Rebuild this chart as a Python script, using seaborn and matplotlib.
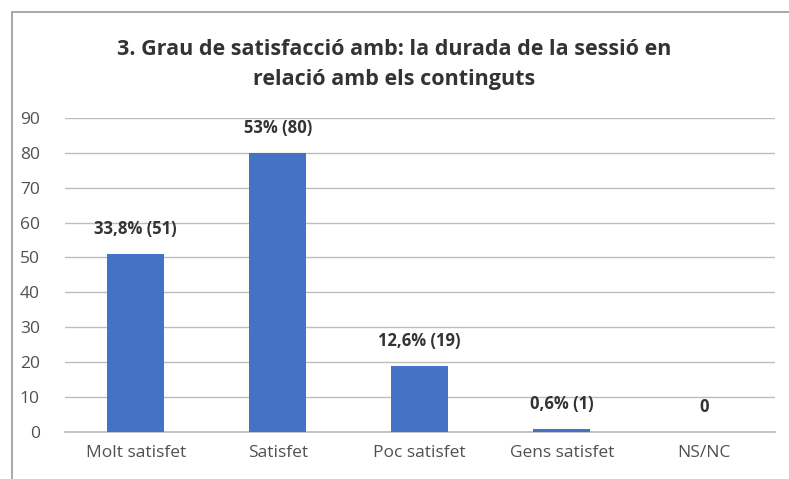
import pandas as pd
import seaborn as sns
import matplotlib.pyplot as plt
from matplotlib.patches import Rectangle

categories = ["Molt satisfet", "Satisfet", "Poc satisfet", "Gens satisfet", "NS/NC"]
counts = [51, 80, 19, 1, 0]
labels = ["33,8% (51)", "53% (80)", "12,6% (19)", "0,6% (1)", "0"]
title = "3. Grau de satisfacció amb: la durada de la sessió en\nrelació amb els continguts"

df = pd.DataFrame({"categoria": categories, "respostes": counts})

sns.set_theme(style="white")
plt.rcParams["font.family"] = ["Open Sans", "DejaVu Sans"]

fig = plt.figure(figsize=(7.89, 4.79), dpi=100)
ax = fig.add_axes([0.082, 0.098, 0.9, 0.656])

# outer chart frame
fig.patches.append(Rectangle((12 / 789, -0.05), 1.2, 1 - 12 / 479 + 0.05,
                             transform=fig.transFigure, fill=False,
                             edgecolor="#9a9a9a", linewidth=1.2))

sns.barplot(data=df, x="categoria", y="respostes", color="#4472C4",
            width=0.4, saturation=1, linewidth=0, ax=ax, zorder=3)

ax.set_ylim(0, 90)
ax.set_yticks(range(0, 91, 10))
ax.yaxis.grid(True, color="#bdbdbd", linewidth=1, zorder=0)
ax.set_axisbelow(True)
for s in ["top", "right", "left"]:
    ax.spines[s].set_visible(False)
ax.spines["bottom"].set_color("#bdbdbd")
ax.set_xlabel("")
ax.set_ylabel("")
ax.tick_params(axis="both", colors="#505050", labelsize=12.5, length=0)
ax.tick_params(axis="x", pad=9)
ax.tick_params(axis="y", pad=18)

for i, (v, lab) in enumerate(zip(counts, labels)):
    ax.text(i, v + 4.5, lab, ha="center", va="bottom", fontsize=12,
            fontweight="bold", color="#333333")

fig.text(0.5, 0.865, title, ha="center", va="center", fontsize=15.5,
         fontweight="bold", color="#333333", linespacing=1.55)

fig.savefig("out.png", dpi=100)
